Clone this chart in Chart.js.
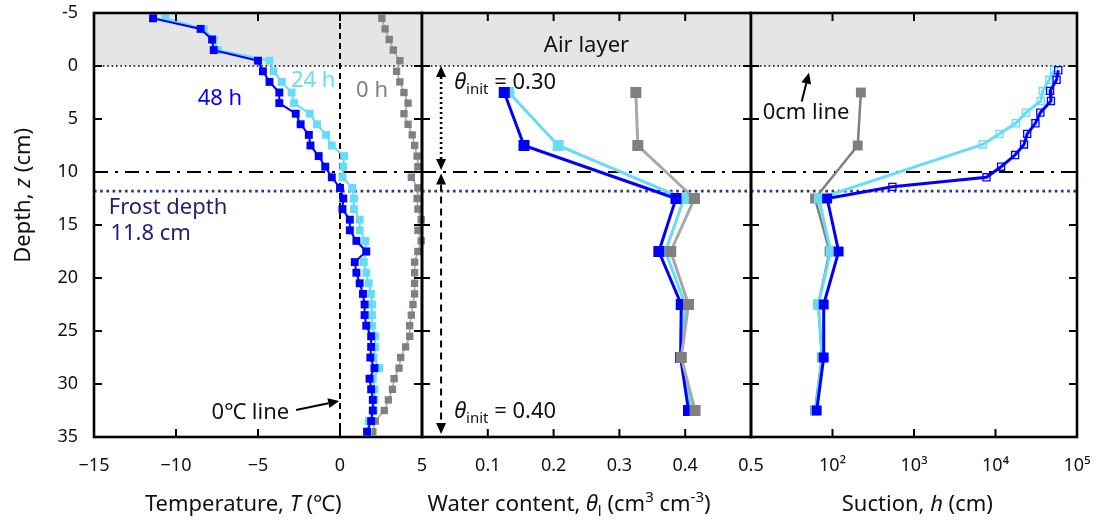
<!DOCTYPE html>
<html>
<head>
<meta charset="utf-8">
<title>Soil profiles</title>
<script src="https://cdn.jsdelivr.net/npm/chart.js@4.4.1/dist/chart.umd.min.js"></script>
<style>
  body { margin: 0; background: #fff; }
  #wrap { position: relative; width: 1105px; height: 524px; background: #fff; }
  #wrap canvas { position: absolute; left: 0; top: 0; }
</style>
</head>
<body>
<div id="wrap">
  <canvas id="tempChart" width="1105" height="524"></canvas>
  <canvas id="waterChart" width="1105" height="524"></canvas>
  <canvas id="suctionChart" width="1105" height="524"></canvas>
</div>
<script>
// depth axis (cm, positive downwards)
var depthTicks = [-5, 0, 5, 10, 15, 20, 25, 30, 35];
var airTop = -5, airBottom = 0;
var layerDepth = 10;
var frostDepth = 11.8;

// temperature profiles (degC)
var tempTicks = [-15, -10, -5, 0, 5];
var tempDepth = [-4.5, -3.5, -2.5, -1.5, -0.5, 0.5, 1.5, 2.5, 3.5, 4.5,
                 5.5, 6.5, 7.5, 8.5, 9.5, 10.5, 11.5, 12.5, 13.5, 14.5,
                 15.5, 16.5, 17.5, 18.5, 19.5, 20.5, 21.5, 22.5, 23.5, 24.5,
                 25.5, 26.5, 27.5, 28.5, 29.5, 30.5, 31.5, 32.5, 33.5, 34.5];
var temp0h = [2.55, 2.75, 3.0, 3.25, 3.65, 3.45, 3.65, 3.9, 4.15, 3.9,
              4.15, 4.4, 4.55, 4.7, 4.75, 4.35, 4.75, 4.7, 4.75, 4.95,
              4.75, 4.95, 4.75, 4.55, 4.55, 4.55, 4.55, 4.45, 4.35, 4.25,
              4.25, 4.0, 3.7, 3.6, 3.3, 3.2, 2.95, 2.7, 2.15, 2.0];
var temp24h = [-10.65, -8.3, -7.7, -7.45, -4.3, -4.05, -3.55, -2.95, -2.8, -1.85,
               -1.4, -0.85, -0.5, 0.25, 0.2, 0.15, 0.75, 0.85, 0.85, 1.2,
               1.2, 1.55, 1.6, 1.45, 1.6, 1.75, 1.9, 1.95, 1.95, 1.95,
               2.15, 2.15, 2.05, 2.4, 2.0, 2.1, 2.1, 2.05, 1.75, 1.7];
var temp48h = [-11.4, -8.5, -7.8, -7.7, -5.0, -4.7, -4.3, -3.7, -3.7, -2.7,
               -2.4, -1.9, -1.8, -1.3, -0.9, -0.5, 0.0, 0.2, 0.15, 0.6,
               0.6, 1.0, 1.6, 0.9, 1.0, 1.2, 1.4, 1.5, 1.5, 1.6,
               1.9, 1.9, 1.85, 2.1, 1.8, 1.9, 2.0, 2.0, 1.9, 1.65];

// volumetric liquid water content (cm3/cm3)
var waterTicks = [0, 0.1, 0.2, 0.3, 0.4, 0.5];
var waterDepth = [2.5, 7.5, 12.5, 17.5, 22.5, 27.5, 32.5];
var water0h = [0.325, 0.328, 0.414, 0.378, 0.405, 0.394, 0.415];
var water24h = [0.132, 0.207, 0.398, 0.370, 0.400, 0.393, 0.410];
var water48h = [0.125, 0.155, 0.386, 0.360, 0.394, 0.393, 0.405];
var thetaInitUpper = 0.30, thetaInitLower = 0.40;

// suction (cm): sensor readings and values computed in the frozen zone
var suctionTicks = [10, 100, 1000, 10000, 100000];
var sensorDepth = [2.5, 7.5, 12.5, 17.5, 22.5, 27.5, 32.5];
var suctionSensor0h = [223, 204, 61, 92, 67, 74, 61];
var suctionSensor24h = [null, null, 68, 95, 67, 75, 62];
var suctionSensor48h = [null, null, 86, 119, 78, 78, 64];
var calcDepth24h = [0.4, 1.3, 2.35, 3.3, 4.4, 5.4, 6.4, 7.4];
var suctionCalc24h = [52500, 45700, 38000, 36000, 23600, 17800, 11200, 7000];
var calcDepth48h = [0.4, 1.3, 2.35, 3.3, 4.4, 5.4, 6.4, 7.4, 8.4, 9.5, 10.5, 11.4];
var suctionCalc48h = [58900, 56200, 46800, 47900, 35500, 30900, 24500, 22400, 17400, 11700, 7760, 543];

var FONT = '"Noto Sans", "DejaVu Sans", sans-serif';
var BLUE = '#0000ff', CYAN = '#66dcf8', GRAY = '#808080', GRAY_LINE = '#a8a8a8';
var NAVY = '#1f3a8a', FROST_TEXT = '#2a1a72';
var TEXT_SIZE = 22, TICK_SIZE = 18;

function profile(values, depths) {
  var pts = [];
  for (var i = 0; i < values.length; i++) {
    if (values[i] !== null) pts.push({ x: values[i], y: depths[i] });
  }
  return pts;
}

function drawRich(ctx, parts, x, y, align, size, color) {
  var small = Math.round(size * 0.68);
  var runs = parts.map(function(p) {
    var style = p[1] || '';
    var fs = (style === 'sub' || style === 'sup') ? small : size;
    var font = (style === 'i' ? 'italic ' : '') + fs + 'px ' + FONT;
    ctx.font = font;
    return { text: p[0], font: font, w: ctx.measureText(p[0]).width,
             dy: style === 'sub' ? size * 0.22 : (style === 'sup' ? -size * 0.4 : 0) };
  });
  var total = runs.reduce(function(s, r) { return s + r.w; }, 0);
  var cx = align === 'center' ? x - total / 2 : (align === 'right' ? x - total : x);
  ctx.save();
  ctx.fillStyle = color;
  ctx.textAlign = 'left';
  ctx.textBaseline = 'alphabetic';
  runs.forEach(function(r) {
    ctx.font = r.font;
    ctx.fillText(r.text, cx, y + r.dy);
    cx += r.w;
  });
  ctx.restore();
}

function hline(ctx, area, py, color, width, dash) {
  ctx.save();
  ctx.strokeStyle = color;
  ctx.lineWidth = width;
  ctx.setLineDash(dash);
  ctx.beginPath();
  ctx.moveTo(area.left, py);
  ctx.lineTo(area.right, py);
  ctx.stroke();
  ctx.restore();
}

function arrowHead(ctx, x1, y1, x2, y2, len, half) {
  var ang = Math.atan2(y2 - y1, x2 - x1);
  ctx.beginPath();
  ctx.moveTo(x2, y2);
  ctx.lineTo(x2 - len * Math.cos(ang) + half * Math.sin(ang), y2 - len * Math.sin(ang) - half * Math.cos(ang));
  ctx.lineTo(x2 - len * Math.cos(ang) - half * Math.sin(ang), y2 - len * Math.sin(ang) + half * Math.cos(ang));
  ctx.closePath();
  ctx.fill();
}

function arrow(ctx, x1, y1, x2, y2, dash, width, bothEnds) {
  var len = 11, half = 5;
  var ang = Math.atan2(y2 - y1, x2 - x1);
  ctx.save();
  ctx.strokeStyle = '#000';
  ctx.fillStyle = '#000';
  ctx.lineWidth = width;
  ctx.setLineDash(dash);
  ctx.beginPath();
  ctx.moveTo(x1 + (bothEnds ? len * Math.cos(ang) : 0), y1 + (bothEnds ? len * Math.sin(ang) : 0));
  ctx.lineTo(x2 - len * Math.cos(ang), y2 - len * Math.sin(ang));
  ctx.stroke();
  ctx.setLineDash([]);
  arrowHead(ctx, x1, y1, x2, y2, len, half);
  if (bothEnds) arrowHead(ctx, x2, y2, x1, y1, len, half);
  ctx.restore();
}

// air band, layer boundary and frost front, drawn under the profiles
function drawBackdrop(chart) {
  var ctx = chart.ctx, a = chart.chartArea, y = chart.scales.y;
  var y0 = y.getPixelForValue(airTop), y1 = y.getPixelForValue(airBottom);
  ctx.save();
  ctx.fillStyle = '#e5e5e5';
  ctx.fillRect(a.left, y0, a.right - a.left, y1 - y0);
  ctx.restore();
  hline(ctx, a, y1, '#000', 1.6, [1.6, 2.8]);
  hline(ctx, a, y.getPixelForValue(layerDepth), '#000', 2, [14, 7, 3, 7]);
  hline(ctx, a, y.getPixelForValue(frostDepth), NAVY, 2.6, [2.6, 3.6]);
}

// panel border with inward tick marks
function drawFrame(chart, xTicks) {
  var ctx = chart.ctx, a = chart.chartArea, x = chart.scales.x, y = chart.scales.y;
  ctx.save();
  ctx.strokeStyle = '#000';
  ctx.lineWidth = 2;
  ctx.beginPath();
  depthTicks.slice(1, -1).forEach(function(d) {
    var py = y.getPixelForValue(d);
    ctx.moveTo(a.left, py); ctx.lineTo(a.left + 8, py);
    ctx.moveTo(a.right, py); ctx.lineTo(a.right - 8, py);
  });
  xTicks.slice(1, -1).forEach(function(v) {
    var px = x.getPixelForValue(v);
    ctx.moveTo(px, a.top); ctx.lineTo(px, a.top + 8);
    ctx.moveTo(px, a.bottom); ctx.lineTo(px, a.bottom - 8);
  });
  ctx.stroke();
  ctx.lineWidth = 2.6;
  ctx.strokeRect(a.left, a.top, a.right - a.left, a.bottom - a.top);
  ctx.restore();
}

function panelPlugin(xTicks, under, over) {
  return {
    id: 'panelDecor',
    beforeDatasetsDraw: function(chart) {
      drawBackdrop(chart);
      if (under) under(chart);
    },
    afterDraw: function(chart) {
      drawFrame(chart, xTicks);
      if (over) over(chart);
    }
  };
}

function makeOptions(xScale, padLeft, padRight, showDepth) {
  var yScale = {
    type: 'linear', min: -5, max: 35, reverse: true, display: showDepth,
    afterBuildTicks: function(s) { s.ticks = depthTicks.map(function(v) { return { value: v }; }); },
    grid: { display: false, drawTicks: false },
    border: { display: false },
    ticks: { font: { family: FONT, size: TICK_SIZE }, color: '#111', padding: 16,
             callback: function(v) { return String(v); } }
  };
  if (showDepth) {
    // fixed width, and no extra room for the end labels so all panels share one plot height
    yScale.afterFit = function(s) { s.width = 94; s.paddingTop = 0; s.paddingBottom = 0; };
  }
  return {
    responsive: false,
    animation: false,
    events: [],
    devicePixelRatio: 1,
    layout: { padding: { left: padLeft, right: padRight, top: 13, bottom: 0 } },
    plugins: { legend: { display: false }, tooltip: { enabled: false } },
    elements: { line: { tension: 0 } },
    scales: { x: xScale, y: yScale }
  };
}

function xAxis(type, min, max, tickValues, label) {
  return {
    type: type, min: min, max: max, position: 'bottom',
    afterBuildTicks: function(s) { s.ticks = tickValues.map(function(v) { return { value: v }; }); },
    grid: { display: false, drawTicks: false },
    border: { display: false },
    ticks: { font: { family: FONT, size: TICK_SIZE }, color: '#111', padding: 18,
             maxRotation: 0, autoSkip: false, callback: label },
    afterFit: function(s) { s.height = 87; s.paddingLeft = 0; s.paddingRight = 0; }
  };
}

function series(points, line, marker, lineWidth, radius, order) {
  return {
    data: points, borderColor: line, borderWidth: lineWidth,
    pointStyle: 'rect', pointRadius: radius, pointBackgroundColor: marker,
    pointBorderWidth: 0, clip: false, order: order
  };
}

// ---------- temperature ----------
new Chart(document.getElementById('tempChart'), {
  type: 'line',
  data: { datasets: [
    series(profile(temp48h, tempDepth), BLUE, BLUE, 2, 5.6, 0),
    series(profile(temp24h, tempDepth), CYAN, CYAN, 2, 5.6, 1),
    series(profile(temp0h, tempDepth), GRAY_LINE, GRAY, 1.6, 5.2, 2)
  ] },
  options: makeOptions(
    xAxis('linear', -15, 5, tempTicks, function(v) { return v < 0 ? '\u2212' + Math.abs(v) : String(v); }),
    0, 1105 - 422, true),
  plugins: [panelPlugin(tempTicks,
    function(chart) {
      var ctx = chart.ctx, a = chart.chartArea, px = chart.scales.x.getPixelForValue(0);
      ctx.save();
      ctx.strokeStyle = '#000';
      ctx.lineWidth = 2;
      ctx.setLineDash([6, 4]);
      ctx.beginPath();
      ctx.moveTo(px, a.top); ctx.lineTo(px, a.bottom);
      ctx.stroke();
      ctx.restore();
    },
    function(chart) {
      var ctx = chart.ctx, x = chart.scales.x, y = chart.scales.y;
      drawRich(ctx, [['48 h']], x.getPixelForValue(-8.68), y.getPixelForValue(3.67), 'left', TEXT_SIZE, BLUE);
      drawRich(ctx, [['24 h']], x.getPixelForValue(-2.99), y.getPixelForValue(1.95), 'left', TEXT_SIZE, CYAN);
      drawRich(ctx, [['0 h']], x.getPixelForValue(0.98), y.getPixelForValue(2.89), 'left', TEXT_SIZE, GRAY);
      drawRich(ctx, [['Frost depth']], x.getPixelForValue(-14.1), y.getPixelForValue(14.0), 'left', TEXT_SIZE, FROST_TEXT);
      drawRich(ctx, [[frostDepth + ' cm']], x.getPixelForValue(-14.0), y.getPixelForValue(16.4), 'left', TEXT_SIZE, FROST_TEXT);
      drawRich(ctx, [['0\u2103 line']], x.getPixelForValue(-3.1), y.getPixelForValue(33.3), 'right', TEXT_SIZE, '#111');
      arrow(ctx, x.getPixelForValue(-2.68), y.getPixelForValue(32.45), x.getPixelForValue(-0.05), y.getPixelForValue(31.6), [], 2, false);
      drawRich(ctx, [['Temperature, '], ['T', 'i'], [' (\u2103)']], x.getPixelForValue(-5.9), 511, 'center', TEXT_SIZE, '#111');
      // depth axis title
      ctx.save();
      ctx.translate(30, y.getPixelForValue(12.2));
      ctx.rotate(-Math.PI / 2);
      drawRich(ctx, [['Depth, '], ['z', 'i'], [' (cm)']], 0, 0, 'center', TEXT_SIZE, '#111');
      ctx.restore();
    })]
});

// ---------- water content ----------
new Chart(document.getElementById('waterChart'), {
  type: 'line',
  data: { datasets: [
    series(profile(water0h, waterDepth), GRAY_LINE, GRAY, 3, 7.8, 0),
    series(profile(water48h, waterDepth), BLUE, BLUE, 3, 7.8, 1),
    series(profile(water24h, waterDepth), CYAN, CYAN, 3, 7.8, 2)
  ] },
  options: makeOptions(
    xAxis('linear', 0, 0.5, waterTicks, function(v) { return v === 0 ? '' : v.toFixed(1); }),
    422, 1105 - 751, false),
  plugins: [panelPlugin(waterTicks, null, function(chart) {
    var ctx = chart.ctx, x = chart.scales.x, y = chart.scales.y;
    var ax = x.getPixelForValue(0.029);
    arrow(ctx, ax, y.getPixelForValue(airBottom), ax, y.getPixelForValue(layerDepth) - 2, [2, 3], 2.6, true);
    arrow(ctx, ax, y.getPixelForValue(layerDepth) + 1.5, ax, y.getPixelForValue(35) - 3, [7, 5], 2, true);
    drawRich(ctx, [['\u03b8', 'i'], ['init', 'sub'], [' = ' + thetaInitUpper.toFixed(2)]],
      x.getPixelForValue(0.049), y.getPixelForValue(2.2), 'left', TEXT_SIZE, '#111');
    drawRich(ctx, [['\u03b8', 'i'], ['init', 'sub'], [' = ' + thetaInitLower.toFixed(2)]],
      x.getPixelForValue(0.049), y.getPixelForValue(33.2), 'left', TEXT_SIZE, '#111');
    drawRich(ctx, [['Air layer']], x.getPixelForValue(0.25), y.getPixelForValue(-1.35), 'center', TEXT_SIZE, '#111');
    drawRich(ctx, [['Water content, '], ['\u03b8', 'i'], ['l', 'sub'], [' (cm'], ['3', 'sup'], [' cm'], ['-3', 'sup'], [')']],
      x.getPixelForValue(0.2235), 511, 'center', TEXT_SIZE, '#111');
  })]
});

// ---------- suction ----------
function suctionSeries(calcDepth, calcValues, sensorValues, color, lineWidth, order) {
  var pts = profile(calcValues, calcDepth).concat(profile(sensorValues, sensorDepth));
  var nCalc = calcValues.length;
  return {
    data: pts, borderColor: color, borderWidth: lineWidth, pointStyle: 'rect', clip: false, order: order,
    pointRadius: function(c) { return c.dataIndex < nCalc ? 5 : 7; },
    pointBackgroundColor: function(c) { return c.dataIndex < nCalc ? 'rgba(255,255,255,0)' : color; },
    pointBorderColor: color,
    pointBorderWidth: function(c) { return c.dataIndex < nCalc ? 1.3 : 0; }
  };
}

var supers = { 100: '10\u00b2', 1000: '10\u00b3', 10000: '10\u2074', 100000: '10\u2075' };
new Chart(document.getElementById('suctionChart'), {
  type: 'line',
  data: { datasets: [
    suctionSeries(calcDepth48h, suctionCalc48h, suctionSensor48h, BLUE, 3, 0),
    suctionSeries(calcDepth24h, suctionCalc24h, suctionSensor24h, CYAN, 3, 1),
    series(profile(suctionSensor0h, sensorDepth), GRAY, GRAY, 2.5, 7, 2)
  ] },
  options: makeOptions(
    xAxis('logarithmic', 10, 100000, suctionTicks, function(v) { return supers[v] || ''; }),
    751, 1105 - 1077, false),
  plugins: [panelPlugin(suctionTicks, null, function(chart) {
    var ctx = chart.ctx, x = chart.scales.x, y = chart.scales.y;
    drawRich(ctx, [['0cm line']], x.getPixelForValue(13.9), y.getPixelForValue(5.02), 'left', TEXT_SIZE, '#111');
    arrow(ctx, x.getPixelForValue(41.9), y.getPixelForValue(3.36), x.getPixelForValue(51.4), y.getPixelForValue(0.63), [], 2, false);
    drawRich(ctx, [['Suction, '], ['h', 'i'], [' (cm)']], x.getPixelForValue(1100), 511, 'center', TEXT_SIZE, '#111');
  })]
});
</script>
</body>
</html>
